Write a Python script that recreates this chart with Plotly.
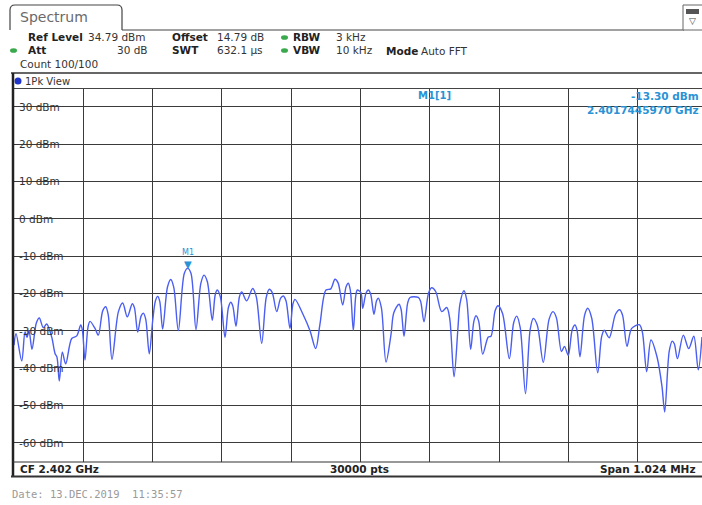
import plotly.graph_objects as go

# ---------------- data ----------------
CF_MHZ = 2402.0
SPAN_MHZ = 1.024
REF_LEVEL_DBM = 34.79
RANGE_DB = 100.0

# trace: frequency offset from CF (kHz) and level (dBm)
offset_khz = [
    -512.0, -509.0, -500.6, -495.7, -492.8, -489.8, -485.4, -478.9, -474.6, -468.7,
    -463.7, -456.3, -451.4, -448.5, -445.1, -440.6, -435.6, -426.7, -419.3, -413.4,
    -410.9, -407.1, -402.7, -399.7, -392.3, -387.4, -380.9, -376.5, -372.8, -367.2,
    -357.7, -351.4, -344.6, -337.2, -334.0, -329.2, -324.2, -320.9, -317.4, -312.1,
    -307.0, -303.0, -299.7, -296.7, -292.3, -285.2, -280.4, -275.9, -269.2, -260.3,
    -255.4, -250.5, -243.1, -235.9, -231.2, -226.3, -219.0, -214.6, -211.6, -207.0,
    -200.2, -195.2, -191.8, -188.7, -184.0, -178.9, -175.5, -168.2, -159.3, -154.0,
    -146.0, -139.3, -134.8, -130.4, -123.8, -118.0, -114.1, -110.1, -104.2, -99.8,
    -96.8, -84.5, -74.6, -66.2, -59.8, -51.0, -44.0, -37.7, -33.1, -26.3,
    -21.3, -18.0, -15.0, -10.6, -7.0, -4.7, 0.5, 3.3, 8.2, 11.5,
    14.9, 19.9, 23.7, 26.3, 30.9, 37.7, 45.1, 49.2, 56.9, 59.9,
    64.3, 69.6, 73.1, 85.4, 88.8, 93.8, 100.6, 105.2, 111.1, 120.0,
    127.4, 131.7, 138.2, 144.1, 147.0, 152.9, 156.9, 162.8, 167.5, 170.7,
    174.7, 180.6, 188.8, 192.8, 199.0, 203.2, 209.9, 219.9, 226.4, 230.8,
    236.0, 243.8, 250.7, 255.3, 261.2, 270.1, 278.7, 284.4, 289.4, 297.0,
    301.4, 307.0, 312.9, 316.9, 319.9, 324.3, 331.1, 335.7, 341.6, 350.5,
    356.3, 360.2, 367.5, 376.8, 383.0, 387.3, 393.8, 400.7, 412.0, 416.4,
    422.9, 429.2, 438.1, 445.5, 449.5, 456.2, 460.6, 463.7, 468.4, 477.0,
    485.0, 492.5, 499.1, 504.6,
]
level_dbm = [
    -33.9, -30.8, -38.1, -30.3, -31.8, -30.0, -35.0, -27.9, -26.6, -29.2,
    -28.2, -31.7, -36.1, -37.1, -43.5, -35.8, -38.9, -32.1, -31.4, -28.5,
    -29.9, -37.9, -29.1, -27.5, -29.4, -31.2, -24.7, -23.6, -25.7, -37.7,
    -24.9, -22.6, -26.3, -22.8, -23.9, -30.4, -26.1, -25.3, -26.9, -36.2,
    -27.2, -22.0, -20.8, -22.1, -29.6, -18.3, -16.3, -18.4, -30.0, -14.6,
    -13.3, -14.6, -29.7, -17.3, -15.1, -16.9, -27.2, -20.3, -19.1, -21.0,
    -31.8, -23.8, -22.4, -23.4, -28.8, -20.9, -19.6, -22.0, -18.7, -20.9,
    -33.4, -21.1, -18.9, -19.8, -24.9, -21.3, -20.7, -22.0, -29.4, -22.8,
    -21.6, -25.8, -30.0, -34.8, -28.1, -19.1, -18.8, -16.2, -17.2, -23.1,
    -18.2, -17.3, -19.2, -29.9, -20.7, -19.1, -19.8, -24.0, -19.9, -19.1,
    -20.1, -25.6, -22.0, -21.3, -23.9, -38.4, -31.0, -25.2, -22.9, -24.2,
    -31.5, -22.7, -21.1, -21.1, -22.1, -27.6, -19.9, -18.5, -19.5, -24.9,
    -23.8, -26.6, -42.4, -29.0, -22.8, -19.3, -21.7, -35.0, -27.5, -26.0,
    -27.5, -36.3, -31.7, -31.5, -24.6, -23.3, -25.4, -37.5, -27.8, -26.1,
    -29.2, -46.9, -29.7, -26.7, -28.5, -38.5, -26.9, -24.9, -26.5, -35.6,
    -34.2, -36.6, -29.7, -28.5, -29.8, -37.0, -25.9, -24.0, -26.6, -41.3,
    -31.6, -29.9, -31.9, -25.6, -24.4, -25.9, -34.2, -29.4, -28.4, -30.3,
    -41.0, -32.5, -37.0, -45.0, -51.8, -35.5, -32.8, -33.5, -37.5, -31.2,
    -34.8, -31.5, -40.5, -31.7,
]

marker_freq_ghz = 2.4017445970
marker_level_dbm = -13.30

ytick_values = [30, 20, 10, 0, -10, -20, -30, -40, -50, -60]
ytick_labels = [f"{v} dBm" for v in ytick_values]

# ---------------- helpers ----------------
W, H = 702, 505


def px(x):
    return x / W


def py(y):
    return 1 - y / H


freq_mhz = [CF_MHZ + k / 1000.0 for k in offset_khz]
f_start = CF_MHZ - SPAN_MHZ / 2
f_end_visible = f_start + SPAN_MHZ * (702 - 14) / 693.0
marker_freq_mhz = marker_freq_ghz * 1000.0

TRACE = "#4a5ef2"
MARK = "#2a93d5"
GRID = "#3a3a3a"
FONT = "DejaVu Sans"

fig = go.Figure()
fig.add_trace(go.Scatter(
    x=freq_mhz, y=level_dbm, mode="lines",
    line=dict(color=TRACE, width=1.4, shape="spline", smoothing=0.9),
    hoverinfo="skip", showlegend=False,
))

shapes = []
annotations = []


def line(x0, y0, x1, y1, color="#333", width=1.0):
    shapes.append(dict(type="line", xref="paper", yref="paper",
                       x0=px(x0), y0=py(y0), x1=px(x1), y1=py(y1),
                       line=dict(color=color, width=width)))


def rect(x0, y0, x1, y1, fill="white", color=None, width=0, layer="above"):
    shapes.append(dict(type="rect", xref="paper", yref="paper",
                       x0=px(x0), y0=py(y0), x1=px(x1), y1=py(y1),
                       fillcolor=fill, layer=layer,
                       line=dict(color=color or fill, width=width)))


def text(x, y, s, size=10.5, color="#222", bold=False, anchor="left", family=FONT):
    if bold:
        s = f"<b>{s}</b>"
    annotations.append(dict(xref="paper", yref="paper", x=px(x), y=py(y),
                            text=s, showarrow=False, xanchor=anchor,
                            yanchor="middle",
                            font=dict(family=family, size=size, color=color)))


def dot(x, y, rx, ry, color):
    shapes.append(dict(type="circle", xref="paper", yref="paper",
                       x0=px(x - rx), y0=py(y - ry), x1=px(x + rx), y1=py(y + ry),
                       fillcolor=color, line=dict(color=color, width=0)))


# ---- tab "Spectrum"
path = "M {:.5f},{:.5f} L {:.5f},{:.5f} Q {:.5f},{:.5f} {:.5f},{:.5f} L {:.5f},{:.5f} Q {:.5f},{:.5f} {:.5f},{:.5f} L {:.5f},{:.5f}".format(
    px(10), py(30), px(10), py(10), px(10), py(5), px(15), py(5),
    px(117), py(5), px(122), py(5), px(122), py(10), px(122), py(30))
shapes.append(dict(type="path", xref="paper", yref="paper", path=path,
                   line=dict(color="#444", width=1.2)))
line(122, 30, 684, 30, "#444", 1.2)
text(18, 17, "Spectrum", size=14, color="#6a6a6a")

# icon top right
shapes.append(dict(type="rect", xref="paper", yref="paper",
                   x0=px(683), y0=py(30), x1=px(706), y1=py(5),
                   line=dict(color="#666", width=1), fillcolor="white"))
rect(686, 9, 699, 14, fill="#555")
text(692, 21, "▽", size=9, color="#444", anchor="center")

# ---- header info
text(26, 37, "Ref Level", bold=True)
text(86, 37, "34.79 dBm", color="#333")
text(170, 37, "Offset", bold=True)
text(215, 37, "14.79 dB", color="#333")
dot(284.5, 37.5, 3.5, 2.3, "#3aa84c")
text(291, 37, "RBW", bold=True)
text(334, 37, "3 kHz", color="#333")

dot(13.5, 50.5, 3.5, 2.3, "#3aa84c")
text(26, 50, "Att", bold=True)
text(150, 50, "30 dB", color="#333", anchor="right")
text(170, 50, "SWT", bold=True)
text(215, 50, "632.1 µs", color="#333")
dot(284.5, 50.5, 3.5, 2.3, "#3aa84c")
text(291, 50, "VBW", bold=True)
text(334, 50, "10 kHz", color="#333")
text(384, 51, "Mode", bold=True)
text(419, 51, "Auto FFT", color="#333")

text(18, 64, "Count 100/100", color="#333")

# ---- "1Pk View" bar and frame
line(11, 73, 702, 73, "#333", 1.5)
line(13, 88.5, 702, 88.5, "#444", 1.0)
dot(18, 81, 3.5, 3.5, "#1f33c8")
text(23, 81, "1Pk View", size=10, color="#333")

# white area for marker info (hides grid there)
rect(415, 89.5, 702, 117, fill="white", layer="between")

# y tick label backgrounds + labels
for v, lab in zip(ytick_values, ytick_labels):
    wlab = 5 + len(lab) * 6.6
    shapes.append(dict(type="rect", xref="paper", yref="y",
                       x0=px(14.5), x1=px(14 + wlab), y0=v - 1.3, y1=v + 1.3,
                       fillcolor="white", layer="between", line=dict(width=0)))
    annotations.append(dict(xref="paper", yref="y", x=px(17), y=v, text=lab,
                            showarrow=False, xanchor="left", yanchor="middle",
                            font=dict(family=FONT, size=10.5, color="#333")))

# marker info
text(416, 96, "M1[1]", size=10, color=MARK, bold=True)
text(701, 96, "-13.30 dBm", size=10.5, color=MARK, bold=True, anchor="right")
text(701, 110, "2.4017445970 GHz", size=10.5, color=MARK, bold=True, anchor="right")

# marker symbol on the trace
annotations.append(dict(xref="x", yref="y", x=marker_freq_mhz, y=marker_level_dbm,
                        text="▼", showarrow=False, xanchor="center", yanchor="bottom",
                        yshift=-4, font=dict(family=FONT, size=10, color=MARK)))
annotations.append(dict(xref="x", yref="y", x=marker_freq_mhz, y=marker_level_dbm,
                        text="M1", showarrow=False, xanchor="center", yanchor="bottom",
                        yshift=9, font=dict(family=FONT, size=8, color=MARK)))

# left border and bottom bar
line(13, 73, 13, 477, "#222", 2.5)
line(13, 462, 702, 462, "#333", 1.2)
line(11, 476.5, 702, 476.5, "#333", 2.0)
text(18, 469, "CF 2.402 GHz", size=10.5, bold=True)
text(360, 469, "30000 pts", size=10.5, bold=True, anchor="center")
text(698, 469, "Span 1.024 MHz", size=10.5, bold=True, anchor="right")

# date line
text(10, 494, "Date: 13.DEC.2019  11:35:57", size=10.5, color="#9a9a9a",
     family="DejaVu Sans Mono")

fig.update_layout(
    width=W, height=H,
    margin=dict(l=0, r=0, t=0, b=0, pad=0),
    paper_bgcolor="white", plot_bgcolor="white",
    showlegend=False,
    xaxis=dict(domain=[px(14), 1.0], range=[f_start, f_end_visible],
               tick0=f_start, dtick=SPAN_MHZ / 10, showgrid=True,
               gridcolor=GRID, gridwidth=1.1, showticklabels=False,
               zeroline=False, showline=False, ticks=""),
    yaxis=dict(domain=[py(462), py(89)],
               range=[REF_LEVEL_DBM - RANGE_DB, REF_LEVEL_DBM],
               tickvals=ytick_values, showgrid=True, gridcolor=GRID,
               gridwidth=1.1, showticklabels=False, zeroline=False,
               showline=False, ticks=""),
    shapes=shapes,
    annotations=annotations,
)

fig.write_html("out.html",
               config={"displayModeBar": False},
               post_script="document.body.style.margin='0';document.body.style.overflow='hidden';")
